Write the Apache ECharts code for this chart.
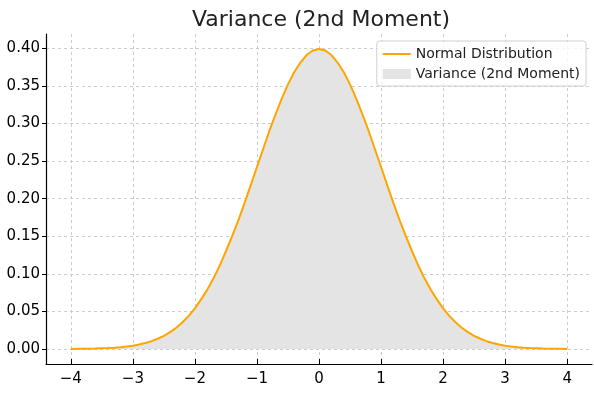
<!DOCTYPE html>
<html>
<head>
<meta charset="utf-8">
<script src="https://cdn.jsdelivr.net/npm/echarts@6/dist/echarts.min.js"></script>
<style>
  html, body { margin: 0; padding: 0; background: #fff; }
  #chart { width: 594px; height: 399px; }
</style>
</head>
<body>
<div id="chart"></div>
<script>
// x positions and density values
var xValues = [
  -4.0, -3.9, -3.8, -3.7, -3.6, -3.5, -3.4, -3.3, -3.2, -3.1,
  -3.0, -2.9, -2.8, -2.7, -2.6, -2.5, -2.4, -2.3, -2.2, -2.1,
  -2.0, -1.9, -1.8, -1.7, -1.6, -1.5, -1.4, -1.3, -1.2, -1.1,
  -1.0, -0.9, -0.8, -0.7, -0.6, -0.5, -0.4, -0.3, -0.2, -0.1,
  0.0, 0.1, 0.2, 0.3, 0.4, 0.5, 0.6, 0.7, 0.8, 0.9,
  1.0, 1.1, 1.2, 1.3, 1.4, 1.5, 1.6, 1.7, 1.8, 1.9,
  2.0, 2.1, 2.2, 2.3, 2.4, 2.5, 2.6, 2.7, 2.8, 2.9,
  3.0, 3.1, 3.2, 3.3, 3.4, 3.5, 3.6, 3.7, 3.8, 3.9, 4.0
];
var densityValues = [
  0.0001, 0.0002, 0.0003, 0.0004, 0.0006, 0.0009, 0.0012, 0.0017, 0.0024, 0.0033,
  0.0044, 0.006, 0.0079, 0.0104, 0.0136, 0.0175, 0.0224, 0.0283, 0.0355, 0.044,
  0.054, 0.066, 0.079, 0.094, 0.111, 0.130, 0.150, 0.171, 0.194, 0.218,
  0.242, 0.266, 0.290, 0.312, 0.333, 0.352, 0.368, 0.381, 0.391, 0.397,
  0.399, 0.397, 0.391, 0.381, 0.368, 0.352, 0.333, 0.312, 0.290, 0.266,
  0.242, 0.218, 0.194, 0.171, 0.150, 0.130, 0.111, 0.094, 0.079, 0.066,
  0.054, 0.044, 0.0355, 0.0283, 0.0224, 0.0175, 0.0136, 0.0104, 0.0079, 0.006,
  0.0044, 0.0033, 0.0024, 0.0017, 0.0012, 0.0009, 0.0006, 0.0004, 0.0003, 0.0002, 0.0001
];
var xTicks = [-4, -3, -2, -1, 0, 1, 2, 3, 4];
var yTicks = [0, 0.05, 0.10, 0.15, 0.20, 0.25, 0.30, 0.35, 0.40];

var points = xValues.map(function (x, i) { return [x, densityValues[i]]; });
var font = 'DejaVu Sans';
var chart = echarts.init(document.getElementById('chart'));

chart.setOption({
  animation: false,
  textStyle: { fontFamily: font },
  title: {
    text: 'Variance (2nd Moment)',
    left: 316, top: 4, textAlign: 'center',
    textStyle: { fontFamily: font, fontSize: 22, fontWeight: 'normal', color: '#222' }
  },
  legend: {
    right: 8, top: 41, orient: 'vertical',
    itemGap: 6, itemWidth: 28, itemHeight: 10,
    padding: [6, 6, 5, 6],
    borderColor: '#d0d0d0', borderWidth: 1, borderRadius: 3,
    backgroundColor: 'rgba(255,255,255,0.8)',
    textStyle: { fontFamily: font, fontSize: 14, color: '#222' },
    data: [
      { name: 'Normal Distribution', icon: 'path://M0,4 L28,4 L28,6 L0,6 Z' },
      { name: 'Variance (2nd Moment)', icon: 'rect' }
    ]
  },
  grid: { left: 46, right: 2, top: 34, bottom: 35 },
  xAxis: {
    type: 'value', min: -4.4, max: 4.4,
    axisLine: { show: true, onZero: false, lineStyle: { color: '#000', width: 1.2 } },
    axisTick: { show: true, inside: true, length: 5, customValues: xTicks, lineStyle: { color: '#000' } },
    axisLabel: {
      customValues: xTicks, fontSize: 15, color: '#000', margin: 8,
      formatter: function (v) { return v < 0 ? '\u2212' + Math.abs(v) : String(v); }
    },
    splitLine: { show: true, lineStyle: { color: '#cccccc', type: [3, 3] } }
  },
  yAxis: {
    type: 'value', min: -0.01995, max: 0.41895,
    axisLine: { show: true, onZero: false, lineStyle: { color: '#000', width: 1.2 } },
    axisTick: { show: true, length: 4, customValues: yTicks, lineStyle: { color: '#000' } },
    axisLabel: {
      customValues: yTicks, fontSize: 15, color: '#000', margin: 6,
      formatter: function (v) { return v.toFixed(2); }
    },
    splitLine: { show: true, lineStyle: { color: '#cccccc', type: [3, 3] } }
  },
  series: [
    {
      name: 'Variance (2nd Moment)', type: 'line', data: points,
      showSymbol: false, symbol: 'none',
      itemStyle: { color: '#e4e4e4' },
      lineStyle: { width: 0, color: '#e4e4e4' },
      areaStyle: { color: '#e4e4e4', opacity: 1, origin: 0 },
      z: 1
    },
    {
      name: 'Normal Distribution', type: 'line', data: points,
      showSymbol: false, symbol: 'none',
      itemStyle: { color: '#ffa500' },
      lineStyle: { width: 2, color: '#ffa500' },
      z: 3
    }
  ]
});
</script>
</body>
</html>
